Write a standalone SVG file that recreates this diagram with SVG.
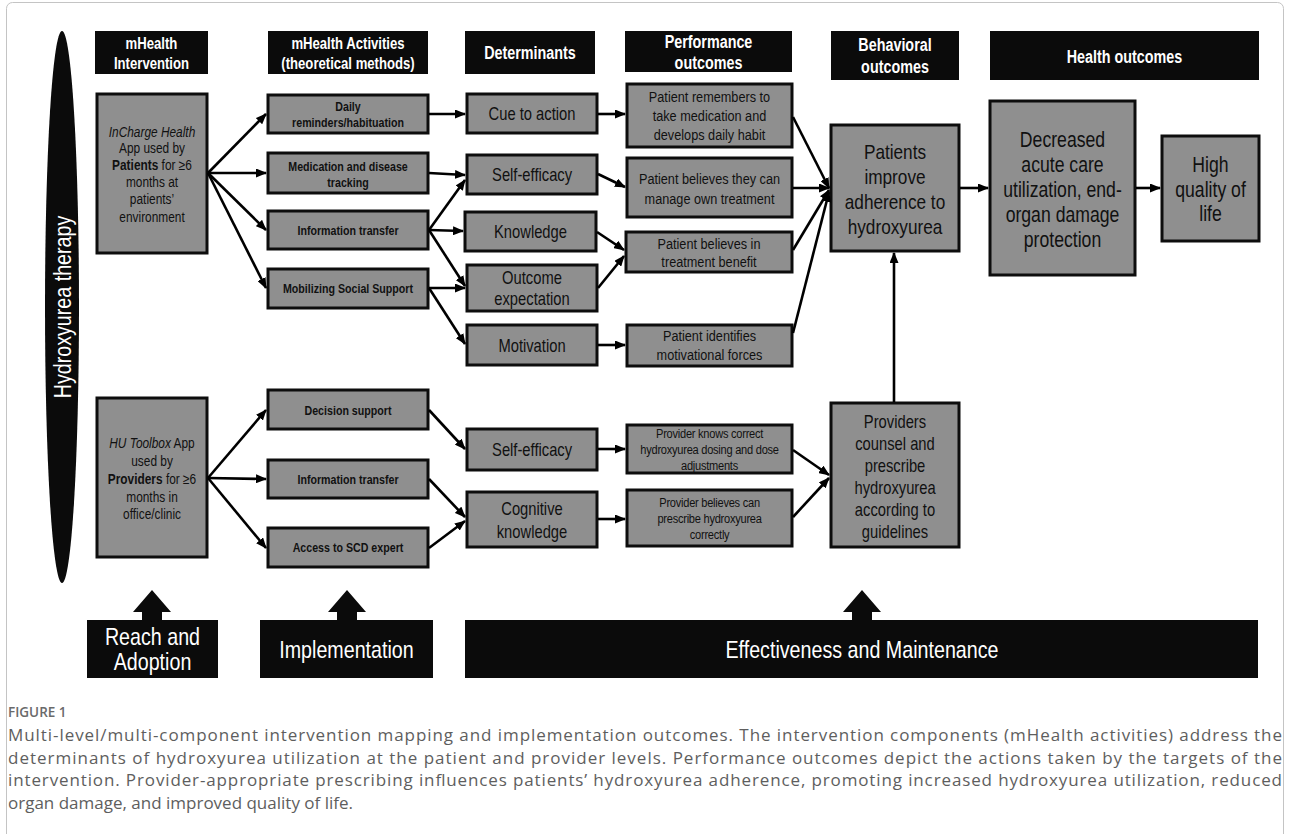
<svg xmlns="http://www.w3.org/2000/svg" width="1290" height="834" viewBox="0 0 1290 834">
<defs>
<marker id="ah" markerUnits="userSpaceOnUse" markerWidth="11" markerHeight="9" refX="10" refY="4.5" orient="auto">
<path d="M0,0 L11,4.5 L0,9 z" fill="#000"/>
</marker>
<style>
.box{fill:#8f8f8f;stroke:#0d0d0d;stroke-width:3}
.hdr{fill:#0b0b0b}
.t{font-family:"Liberation Sans",Arial,sans-serif;text-anchor:middle;fill:#111;transform-box:fill-box;transform-origin:center;transform:scaleX(0.82)}
.hw{fill:#fff;font-weight:bold;font-size:17.5px}
.hs{font-size:16px}
.act{font-weight:bold;font-size:13px}
.det{font-size:18px}
.perf{font-size:15.5px}
.prov{font-size:13.5px;letter-spacing:-0.3px}
.int{font-size:14.5px}
.big{font-size:21px}
.hl{font-size:21.5px}
.bp{font-size:18px}
.bot{fill:#fff;font-size:24px}
.conn path{stroke:#000;stroke-width:2.6;fill:none;marker-end:url(#ah)}
.cap{font-family:"Open Sans","Noto Sans",sans-serif;fill:#5e5e5e;font-size:17px}
</style>
</defs>
<rect width="1290" height="834" fill="#fff"/>
<rect x="6.5" y="2.5" width="1277" height="850" rx="6" fill="none" stroke="#c4c4c4" stroke-width="1"/>

<g id="therapy">
<ellipse cx="62" cy="307" rx="17" ry="276" fill="#0b0b0b"/>
<text transform="translate(62,307) rotate(-90) scale(0.82,1)" dy="8.5" text-anchor="middle" font-family="Liberation Sans, Arial, sans-serif" font-size="24" fill="#fff">Hydroxyurea therapy</text>
</g>

<g id="headers">
<rect class="hdr" x="95" y="31" width="113" height="43"/>
<text class="t hw hs" x="151.5" y="49">mHealth</text>
<text class="t hw hs" x="151.5" y="69">Intervention</text>
<rect class="hdr" x="268" y="31" width="160" height="43"/>
<text class="t hw hs" x="348" y="49">mHealth Activities</text>
<text class="t hw hs" x="348" y="69">(theoretical methods)</text>
<rect class="hdr" x="465" y="31" width="130" height="43"/>
<text class="t hw" x="530" y="59">Determinants</text>
<rect class="hdr" x="625" y="31" width="167" height="41"/>
<text class="t hw" x="708.5" y="48">Performance</text>
<text class="t hw" x="708.5" y="69">outcomes</text>
<rect class="hdr" x="831" y="31" width="128" height="49"/>
<text class="t hw" x="895" y="51">Behavioral</text>
<text class="t hw" x="895" y="73">outcomes</text>
<rect class="hdr" x="990" y="31" width="269" height="49"/>
<text class="t hw" x="1124.5" y="63">Health outcomes</text>
</g>

<g id="int-patient">
<rect class="box" x="97" y="94" width="110" height="159"/>
<text class="t int" x="152" y="137"><tspan font-style="italic">InCharge Health</tspan></text>
<text class="t int" x="152" y="153">App used by</text>
<text class="t int" x="152" y="170"><tspan font-weight="bold">Patients</tspan> for ≥6</text>
<text class="t int" x="152" y="187">months at</text>
<text class="t int" x="152" y="204">patients’</text>
<text class="t int" x="152" y="222">environment</text>
</g>
<g id="int-provider">
<rect class="box" x="97" y="398" width="110" height="159"/>
<text class="t int" x="152" y="448"><tspan font-style="italic">HU Toolbox</tspan> App</text>
<text class="t int" x="152" y="466">used by</text>
<text class="t int" x="152" y="484"><tspan font-weight="bold">Providers</tspan> for ≥6</text>
<text class="t int" x="152" y="502">months in</text>
<text class="t int" x="152" y="519">office/clinic</text>
</g>

<g id="act-daily"><rect class="box" x="268" y="95" width="160" height="38"/>
<text class="t act" x="348" y="111">Daily</text><text class="t act" x="348" y="127">reminders/habituation</text></g>
<g id="act-med"><rect class="box" x="268" y="153" width="160" height="40"/>
<text class="t act" x="348" y="171">Medication and disease</text><text class="t act" x="348" y="187">tracking</text></g>
<g id="act-info"><rect class="box" x="268" y="211" width="160" height="38"/>
<text class="t act" x="348" y="235">Information transfer</text></g>
<g id="act-social"><rect class="box" x="268" y="269" width="160" height="39"/>
<text class="t act" x="348" y="293">Mobilizing Social Support</text></g>
<g id="act-decision"><rect class="box" x="268" y="390" width="160" height="39"/>
<text class="t act" x="348" y="415">Decision support</text></g>
<g id="act-info2"><rect class="box" x="268" y="460" width="160" height="38"/>
<text class="t act" x="348" y="484">Information transfer</text></g>
<g id="act-expert"><rect class="box" x="268" y="528" width="160" height="39"/>
<text class="t act" x="348" y="552">Access to SCD expert</text></g>

<g id="det-cue"><rect class="box" x="467" y="94" width="130" height="39"/>
<text class="t det" x="532" y="120">Cue to action</text></g>
<g id="det-self"><rect class="box" x="467" y="155" width="130" height="39"/>
<text class="t det" x="532" y="181">Self-efficacy</text></g>
<g id="det-know"><rect class="box" x="465" y="212" width="131" height="39"/>
<text class="t det" x="530.5" y="238">Knowledge</text></g>
<g id="det-outcome"><rect class="box" x="467" y="265" width="130" height="46"/>
<text class="t det" x="532" y="284">Outcome</text><text class="t det" x="532" y="305">expectation</text></g>
<g id="det-motiv"><rect class="box" x="467" y="325" width="130" height="40"/>
<text class="t det" x="532" y="352">Motivation</text></g>
<g id="det-self2"><rect class="box" x="467" y="429" width="130" height="41"/>
<text class="t det" x="532" y="456">Self-efficacy</text></g>
<g id="det-cog"><rect class="box" x="467" y="492" width="130" height="55"/>
<text class="t det" x="532" y="515">Cognitive</text><text class="t det" x="532" y="538">knowledge</text></g>

<g id="perf-remember"><rect class="box" x="627" y="84" width="165" height="63"/>
<text class="t perf" x="709.5" y="102">Patient remembers to</text>
<text class="t perf" x="709.5" y="121">take medication and</text>
<text class="t perf" x="709.5" y="140">develops daily habit</text></g>
<g id="perf-believe"><rect class="box" x="627" y="158" width="165" height="59"/>
<text class="t perf" x="709.5" y="184">Patient believes they can</text>
<text class="t perf" x="709.5" y="204">manage own treatment</text></g>
<g id="perf-benefit"><rect class="box" x="626" y="232" width="166" height="40"/>
<text class="t perf" x="709" y="249">Patient believes in</text>
<text class="t perf" x="709" y="267">treatment benefit</text></g>
<g id="perf-motiv"><rect class="box" x="627" y="325" width="165" height="41"/>
<text class="t perf" x="709.5" y="341">Patient identifies</text>
<text class="t perf" x="709.5" y="360">motivational forces</text></g>
<g id="perf-knows"><rect class="box" x="627" y="425" width="165" height="48"/>
<text class="t prov" x="709.5" y="438">Provider knows correct</text>
<text class="t prov" x="709.5" y="454">hydroxyurea dosing and dose</text>
<text class="t prov" x="709.5" y="470">adjustments</text></g>
<g id="perf-prescribe"><rect class="box" x="627" y="490" width="165" height="56"/>
<text class="t prov" x="709.5" y="507">Provider believes can</text>
<text class="t prov" x="709.5" y="523">prescribe hydroxyurea</text>
<text class="t prov" x="709.5" y="539">correctly</text></g>

<g id="beh-adherence"><rect class="box" x="831" y="125" width="128" height="126"/>
<text class="t big" x="895" y="159">Patients</text>
<text class="t big" x="895" y="184">improve</text>
<text class="t big" x="895" y="209">adherence to</text>
<text class="t big" x="895" y="234">hydroxyurea</text></g>
<g id="beh-providers"><rect class="box" x="831" y="403" width="128" height="144"/>
<text class="t bp" x="895" y="428">Providers</text>
<text class="t bp" x="895" y="450">counsel and</text>
<text class="t bp" x="895" y="472">prescribe</text>
<text class="t bp" x="895" y="494">hydroxyurea</text>
<text class="t bp" x="895" y="516">according to</text>
<text class="t bp" x="895" y="538">guidelines</text></g>

<g id="health-acute"><rect class="box" x="990" y="101" width="145" height="174"/>
<text class="t hl" x="1062.5" y="147">Decreased</text>
<text class="t hl" x="1062.5" y="172">acute care</text>
<text class="t hl" x="1062.5" y="197">utilization, end-</text>
<text class="t hl" x="1062.5" y="222">organ damage</text>
<text class="t hl" x="1062.5" y="247">protection</text></g>
<g id="health-qol"><rect class="box" x="1162" y="136" width="97" height="105"/>
<text class="t hl" x="1210.5" y="172">High</text>
<text class="t hl" x="1210.5" y="197">quality of</text>
<text class="t hl" x="1210.5" y="221">life</text></g>

<g id="connectors" class="conn">
<path d="M208,173 L266,114"/>
<path d="M208,173 L266,173"/>
<path d="M208,173 L266,230"/>
<path d="M208,173 L266,288"/>
<path d="M429,114 L465,114"/>
<path d="M429,173 L465,175"/>
<path d="M429,230 L465,180"/>
<path d="M429,230 L463,231"/>
<path d="M429,230 L465,286"/>
<path d="M429,288 L465,288"/>
<path d="M429,288 L465,344"/>
<path d="M598,114 L625,114"/>
<path d="M598,174 L625,187"/>
<path d="M597,232 L624,250"/>
<path d="M598,288 L624,256"/>
<path d="M598,345 L625,345"/>
<path d="M793,117 L829,188"/>
<path d="M793,188 L829,188"/>
<path d="M793,250 L829,190"/>
<path d="M793,333 L829,192"/>
<path d="M960,188 L988,188"/>
<path d="M1136,188 L1160,188"/>
<path d="M894,402 L894,253"/>
<path d="M208,478 L266,410"/>
<path d="M208,478 L266,479"/>
<path d="M208,478 L266,548"/>
<path d="M429,410 L465,449"/>
<path d="M429,479 L465,517"/>
<path d="M429,548 L465,521"/>
<path d="M598,449 L625,449"/>
<path d="M598,519 L625,519"/>
<path d="M793,450 L829,475"/>
<path d="M793,517 L829,478"/>
</g>

<g id="reach">
<path d="M152,590 L171,612 L162,612 L162,621 L142,621 L142,612 L133,612 Z" fill="#0b0b0b"/>
<rect class="hdr" x="87" y="620" width="131" height="58"/>
<text class="t bot" x="152.5" y="645">Reach and</text>
<text class="t bot" x="152.5" y="670">Adoption</text>
</g>
<g id="implementation">
<path d="M347,590 L366,612 L357,612 L357,621 L337,621 L337,612 L328,612 Z" fill="#0b0b0b"/>
<rect class="hdr" x="260" y="620" width="173" height="58"/>
<text class="t bot" x="346.5" y="658">Implementation</text>
</g>
<g id="effectiveness">
<path d="M862,590 L881,612 L872,612 L872,621 L852,621 L852,612 L843,612 Z" fill="#0b0b0b"/>
<rect class="hdr" x="465" y="620" width="793" height="58"/>
<text class="t bot" x="862" y="658">Effectiveness and Maintenance</text>
</g>

<g id="caption">
<text class="cap" x="8" y="717" style="font-size:13.5px;font-weight:600;fill:#6a6a6a">FIGURE 1</text>
<text class="cap" x="8" y="741" textLength="1274" lengthAdjust="spacing">Multi-level/multi-component intervention mapping and implementation outcomes. The intervention components (mHealth activities) address the</text>
<text class="cap" x="8" y="764" textLength="1274" lengthAdjust="spacing">determinants of hydroxyurea utilization at the patient and provider levels. Performance outcomes depict the actions taken by the targets of the</text>
<text class="cap" x="8" y="786" textLength="1274" lengthAdjust="spacing">intervention. Provider-appropriate prescribing influences patients’ hydroxyurea adherence, promoting increased hydroxyurea utilization, reduced</text>
<text class="cap" x="8" y="809">organ damage, and improved quality of life.</text>
</g>
</svg>
